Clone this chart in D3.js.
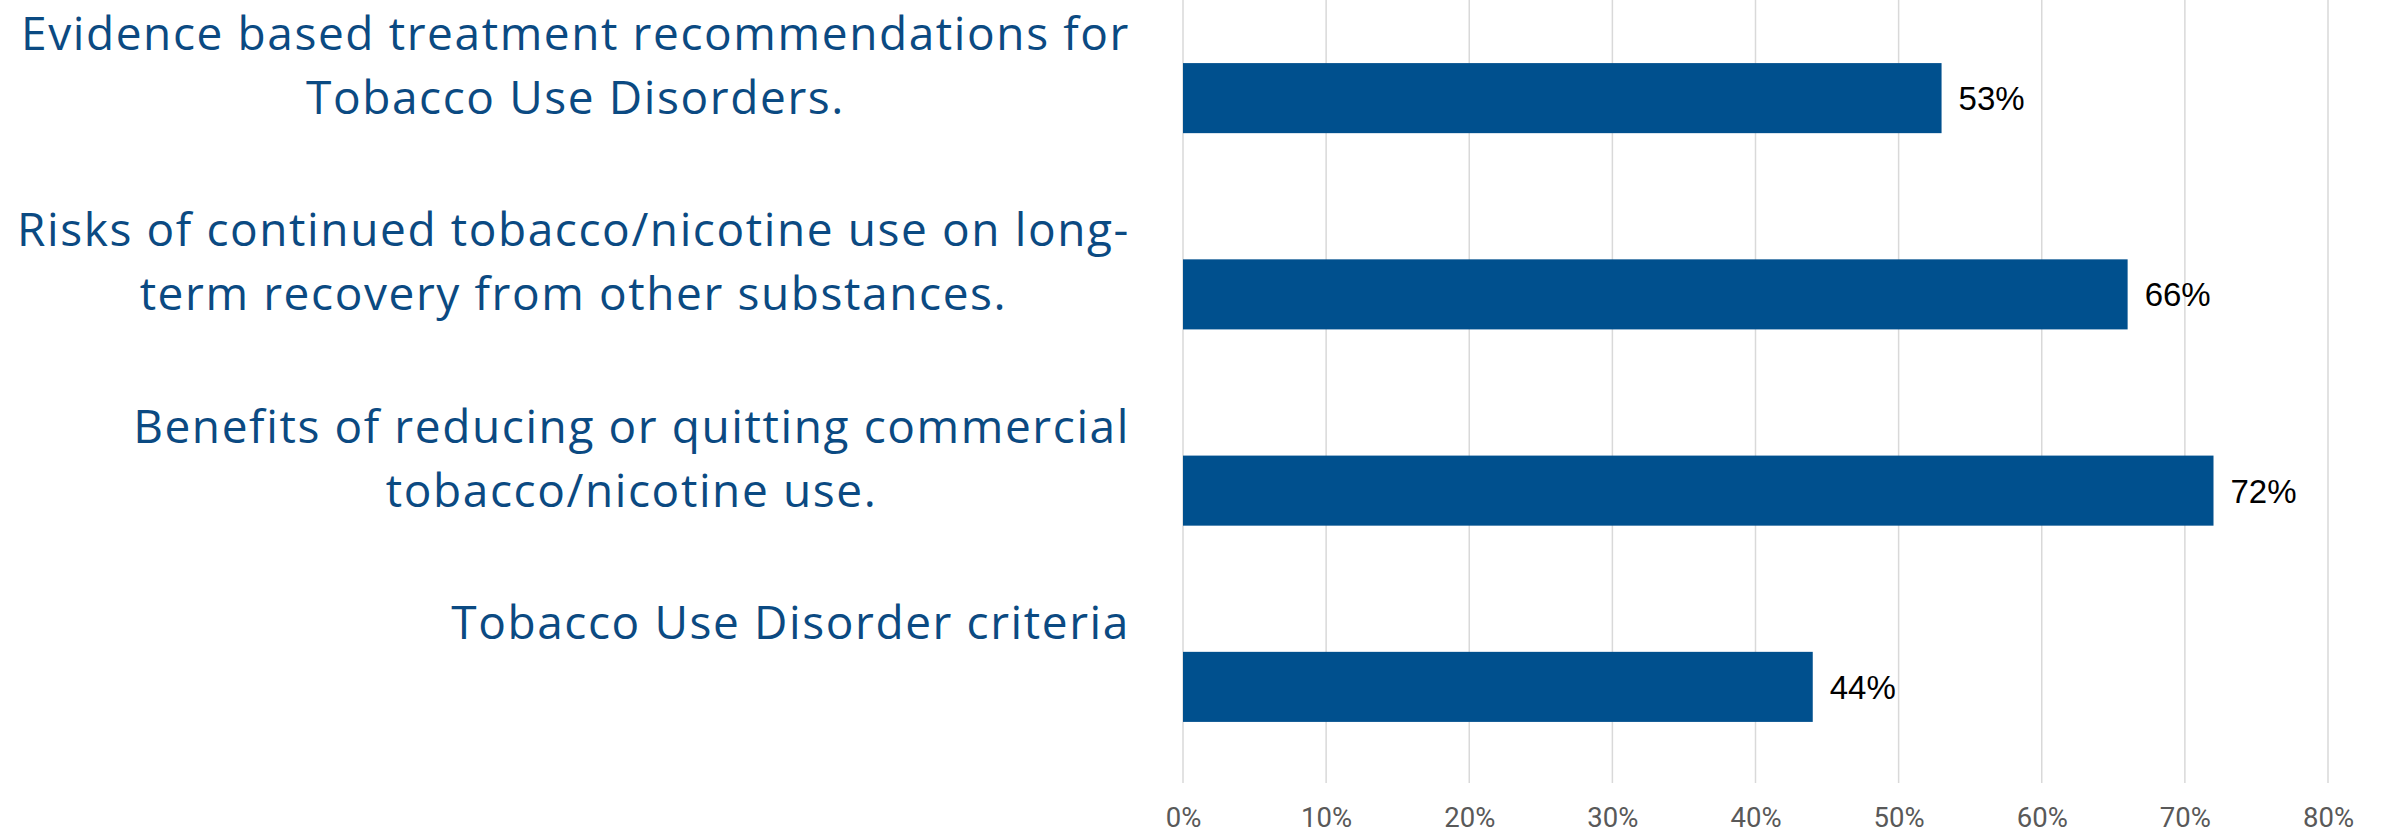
<!DOCTYPE html>
<html>
<head>
<meta charset="utf-8">
<script src="https://cdn.jsdelivr.net/npm/d3@7"></script>
<style>
  html, body { margin: 0; padding: 0; background: #ffffff; }
  svg { display: block; }
</style>
</head>
<body>
<svg id="chart" width="2384" height="833"></svg>
<script>
// Survey topics (each label split into its wrapped lines) and share of respondents
const categories = [
  "Evidence based treatment recommendations for Tobacco Use Disorders.",
  "Risks of continued tobacco/nicotine use on long-term recovery from other substances.",
  "Benefits of reducing or quitting commercial tobacco/nicotine use.",
  "Tobacco Use Disorder criteria"
];
const categoryLines = [
  ["Evidence based treatment recommendations for", "Tobacco Use Disorders."],
  ["Risks of continued tobacco/nicotine use on long-", "term recovery from other substances."],
  ["Benefits of reducing or quitting commercial", "tobacco/nicotine use."],
  ["Tobacco Use Disorder criteria"]
];
const values = [0.53, 0.66, 0.72, 0.44];
const tickValues = [0, 0.1, 0.2, 0.3, 0.4, 0.5, 0.6, 0.7, 0.8];

const svg = d3.select("#chart");
const plot = { left: 1183, right: 2328, top: 0, bottom: 785 };

const x = d3.scaleLinear().domain([0, 0.8]).range([plot.left, plot.right]);
const y = d3.scaleBand().domain(categories).range([plot.top, plot.bottom])
  .paddingInner(0.643).paddingOuter(0.3215);

// vertical gridlines
svg.append("g").selectAll("line").data(tickValues).join("line")
  .attr("x1", d => x(d)).attr("x2", d => x(d))
  .attr("y1", 0).attr("y2", 783)
  .attr("stroke", "#d9d9d9").attr("stroke-width", 1.5);

// x axis tick labels
const xAxis = d3.axisBottom(x).tickValues(tickValues).tickFormat(d3.format(".0%")).tickSize(0).tickPadding(0);
const gx = svg.append("g").attr("transform", "translate(0,807)").call(xAxis);
gx.select(".domain").remove();
gx.selectAll("text")
  .attr("font-family", "Roboto, 'Liberation Sans', sans-serif")
  .attr("font-size", 27.5)
  .attr("fill", "#595959")
  .attr("dy", "0.71em");

// bars
svg.append("g").selectAll("rect").data(categories).join("rect")
  .attr("x", x(0))
  .attr("y", d => y(d))
  .attr("width", (d, i) => x(values[i]) - x(0))
  .attr("height", y.bandwidth())
  .attr("fill", "#00508e");

// value labels
svg.append("g").selectAll("text").data(categories).join("text")
  .attr("x", (d, i) => x(values[i]) + 17)
  .attr("y", d => y(d) + y.bandwidth() / 2)
  .attr("dy", "0.36em")
  .attr("font-family", "'Liberation Sans', Arial, sans-serif")
  .attr("font-size", 33)
  .attr("fill", "#000000")
  .text((d, i) => d3.format(".0%")(values[i]));

// category labels: wrapped lines, centered within a right-aligned block
const labelRight = 1130;
const labels = svg.append("g");
categories.forEach((cat, i) => {
  const mid = y(cat) + y.bandwidth() / 2;
  const g = labels.append("g");
  const texts = categoryLines[i].map((line, j) =>
    g.append("text")
      .attr("y", mid - 48 + j * 64)
      .attr("font-family", "'Open Sans', 'Noto Sans', sans-serif")
      .attr("font-size", 46)
      .attr("letter-spacing", 1.6)
      .attr("fill", "#0b4a82")
      .attr("text-anchor", "middle")
      .text(line)
  );
  const maxW = d3.max(texts, t => t.node().getComputedTextLength());
  texts.forEach(t => t.attr("x", labelRight - maxW / 2));
});
</script>
</body>
</html>
